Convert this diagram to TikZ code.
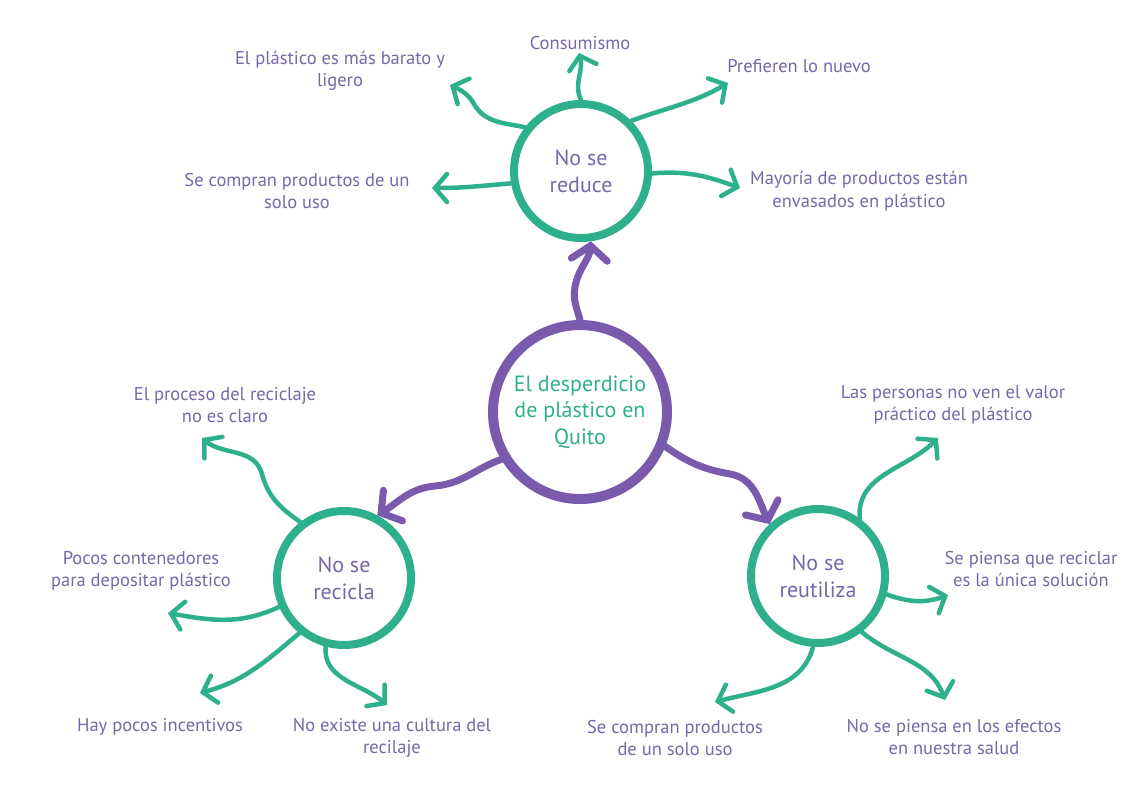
\documentclass[tikz,border=0pt]{standalone}
\usepackage{fontspec}
\setmainfont{PT Sans}
\usetikzlibrary{arrows.meta}
\definecolor{verde}{RGB}{46,176,140}
\definecolor{lila}{RGB}{122,90,172}
\definecolor{lilatext}{RGB}{120,104,168}
\tikzset{
  hub/.style={circle, draw=lila, line width=10pt, fill=white, minimum size=174pt,
    inner sep=0pt, align=center, text=verde, font=\fontsize{22}{26.5}\selectfont},
  branch/.style={circle, draw=verde, line width=8pt, fill=white, minimum size=134pt,
    inner sep=0pt, align=center, text=lilatext, font=\fontsize{22}{27}\selectfont},
  lbl/.style={align=center, text=lilatext, font=\fontsize{18.5}{22.5}\selectfont, inner sep=0pt},
  tarrow/.style={draw=verde, line width=4.5pt, line cap=round,
    -{Straight Barb[length=12pt,width=28pt,line cap=round]}},
  parrow/.style={draw=lila, line width=7pt, line cap=round,
    -{Straight Barb[length=14pt,width=36pt,line cap=round]}},
}

\begin{document}
\begin{tikzpicture}[x=1pt,y=-1pt]
	%%%%% START %%%%%
	\useasboundingbox[fill=white] (0,0) rectangle (1140,807);

	% circles
	\node[hub] (quito) at (580,412) {El desperdicio\\de plástico en\\Quito};
	\node[branch] (reduce) at (581,171) {No se\\reduce};
	\node[branch] (recicla) at (344,578) {No se\\recicla};
	\node[branch] (reutiliza) at (818,576) {No se\\reutiliza};

	% texts around "No se reduce"
	\node[lbl] (consumo) at (580,43) {Consumismo};
	\node[lbl] (barato) at (340,71) {El plástico es más barato y\\ligero};
	\node[lbl] (usounico) at (297,191) {Se compran productos de un\\solo uso};
	\node[lbl] (nuevo) at (799,66) {Prefieren lo nuevo};
	\node[lbl] (envases) at (859,191) {Mayoría de productos están\\envasados en plástico};

	% texts around "No se recicla"
	\node[lbl] (proceso) at (225,405) {El proceso del reciclaje\\no es claro};
	\node[lbl] (contenedores) at (141,571) {Pocos contenedores\\para depositar plástico};
	\node[lbl] (incentivos) at (160,727) {Hay pocos incentivos};
	\node[lbl] (cultura) at (392,738) {No existe una cultura del\\recilaje};

	% texts around "No se reutiliza"
	\node[lbl] (valor) at (953,405) {Las personas no ven el valor\\práctico del plástico};
	\node[lbl] (solucion) at (1031,569) {Se piensa que reciclar\\es la única solución};
	\node[lbl] (usounico2) at (675,738) {Se compran productos\\de un solo uso};
	\node[lbl] (salud) at (954,737) {No se piensa en los efectos\\en nuestra salud};

	% arrow tips
	\coordinate (t-consumo) at (579,53);
	\coordinate (t-barato) at (450,85);
	\coordinate (t-usounico) at (432,188);
	\coordinate (t-nuevo) at (728,83);
	\coordinate (t-envases) at (740,188);
	\coordinate (t-proceso) at (202,438);
	\coordinate (t-contenedores) at (168,613);
	\coordinate (t-incentivos) at (200,693);
	\coordinate (t-cultura) at (387,705);
	\coordinate (t-valor) at (938,438);
	\coordinate (t-solucion) at (948,595);
	\coordinate (t-usounico2) at (715,702);
	\coordinate (t-salud) at (945,700);

	% purple arrows
	\draw[parrow] (quito.90) to[out=105,in=-100] (575,287) to[out=80,in=-95] (reduce.-82);
	\draw[parrow] (quito.211) to[out=200,in=5] (435,486) to[out=185,in=32] (recicla.62);
	\draw[parrow] (quito.-22) to[out=-35,in=170] (730,474) to[out=-10,in=115] (reutiliza.133);

	% green arrows, top
	\draw[tarrow] (reduce.90) to[out=115,in=-75] (t-consumo);
	\draw[tarrow] (reduce.142) to[out=168,in=-60] (474,104) to[out=120,in=-25] (t-barato);
	\draw[tarrow] (reduce.190) to[out=185,in=0] (t-usounico);
	\draw[tarrow] (reduce.45) to[out=20,in=210] (t-nuevo);
	\draw[tarrow] (reduce.-2) to[out=5,in=160] (t-envases);

	% green arrows, left
	\draw[tarrow] (recicla.128) to[out=145,in=-75] (262,474) to[out=105,in=-40] (t-proceso);
	\draw[tarrow] (recicla.204) to[out=205,in=-10] (t-contenedores);
	\draw[tarrow] (recicla.231) to[out=220,in=15] (t-incentivos);
	\draw[tarrow] (recicla.255) to[out=265,in=140] (t-cultura);

	% green arrows, right
	\draw[tarrow] (reutiliza.54) to[out=95,in=225] (t-valor);
	\draw[tarrow] (reutiliza.-15) to[out=-20,in=200] (t-solucion);
	\draw[tarrow] (reutiliza.266) to[out=255,in=15] (t-usounico2);
	\draw[tarrow] (reutiliza.-52) to[out=-40,in=110] (t-salud);
	%%%%% END %%%%%
\end{tikzpicture}
\end{document}
